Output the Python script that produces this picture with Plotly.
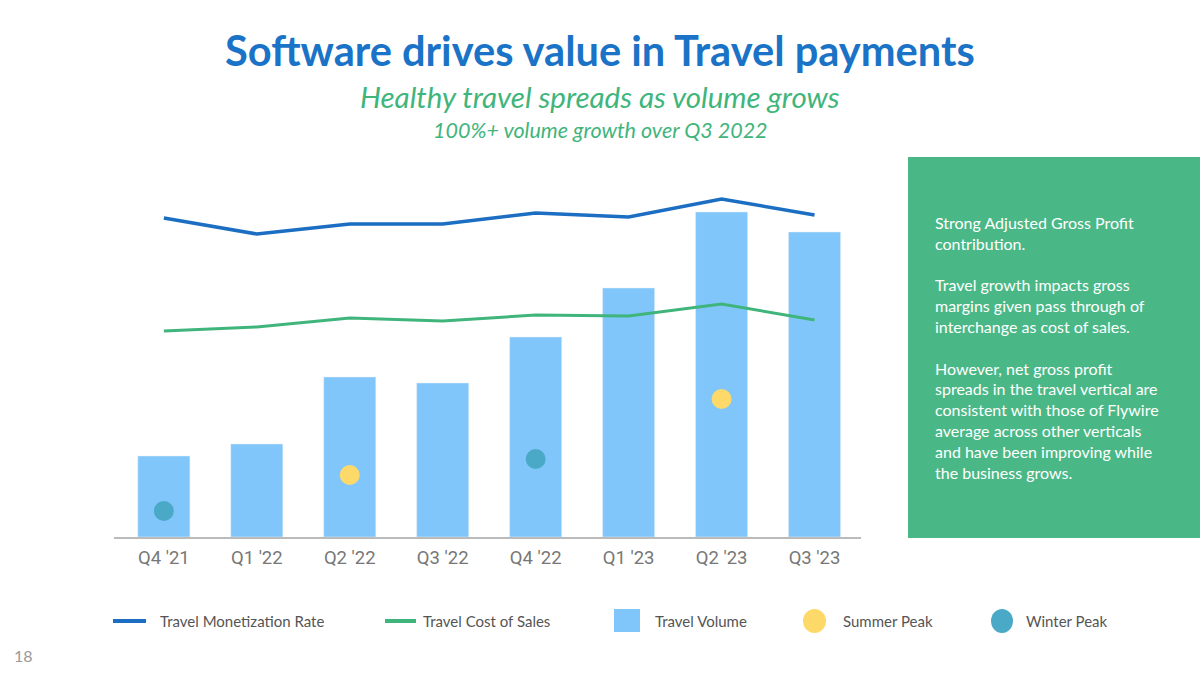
import plotly.graph_objects as go

quarters = ["Q4 '21", "Q1 '22", "Q2 '22", "Q3 '22", "Q4 '22", "Q1 '23", "Q2 '23", "Q3 '23"]
travel_volume = [81, 93, 160, 154, 200, 249, 325, 305]
monetization_rate = [319, 303, 313, 313, 324, 320, 338, 322]
cost_of_sales = [206, 210, 219, 216, 222, 221, 233, 217]
summer_q = ["Q2 '22", "Q2 '23"]
summer_val = [62, 138]
winter_q = ["Q4 '21", "Q4 '22"]
winter_val = [26, 78]

C_BLUE = "#1b6ec2"
C_GREEN = "#3fb57c"
C_BAR = "#80c6fa"
C_YEL = "#fdd96a"
C_TEAL = "#4aa9c6"
C_BOX = "#4ab886"

fig = go.Figure()
fig.add_trace(go.Bar(x=quarters, y=travel_volume, marker_color=C_BAR, name="Travel Volume"))
fig.add_trace(go.Scatter(x=quarters, y=monetization_rate, mode="lines",
                         line=dict(color=C_BLUE, width=3.5), name="Travel Monetization Rate"))
fig.add_trace(go.Scatter(x=quarters, y=cost_of_sales, mode="lines",
                         line=dict(color=C_GREEN, width=3), name="Travel Cost of Sales"))
fig.add_trace(go.Scatter(x=summer_q, y=summer_val, mode="markers",
                         marker=dict(color=C_YEL, size=20), name="Summer Peak"))
fig.add_trace(go.Scatter(x=winter_q, y=winter_val, mode="markers",
                         marker=dict(color=C_TEAL, size=20), name="Winter Peak"))

W, H = 1200, 675
def px(x): return x / W
def py(y): return 1 - y / H

fig.update_layout(
    width=W, height=H, margin=dict(l=0, r=0, t=0, b=0),
    paper_bgcolor="white", plot_bgcolor="white", showlegend=False, bargap=0.44,
    xaxis=dict(domain=[px(114), px(861)], showline=True, linecolor="#bbbbbb", linewidth=1.5,
               showgrid=False, ticks="", ticklabelstandoff=3,
               tickfont=dict(family="Roboto", size=18.5, color="#777777"),
               anchor="y"),
    yaxis=dict(domain=[py(537), py(137)], range=[0, 400], visible=False, showgrid=False),
)

# Right text box
fig.add_shape(type="rect", xref="paper", yref="paper", x0=px(908), x1=1, y0=py(538), y1=py(157),
              fillcolor=C_BOX, line_width=0, layer="below")
box_text = ("Strong Adjusted Gross Profit<br>contribution.<br><br>"
            "Travel growth impacts gross<br>margins given pass through of<br>interchange as cost of sales.<br><br>"
            "However, net gross profit<br>spreads in the travel vertical are<br>consistent with those of Flywire<br>"
            "average across other verticals<br>and have been improving while<br>the business grows.")
fig.add_annotation(xref="paper", yref="paper", x=px(933), y=py(211), xanchor="left", yanchor="top",
                   text=box_text, showarrow=False, align="left",
                   font=dict(family="Lato", size=16, color="white"))

# Titles
fig.add_annotation(xref="paper", yref="paper", x=0.5, y=py(50), yanchor="middle",
                   text="<b>Software drives value in Travel payments</b>",
                   showarrow=False, font=dict(family="Lato", size=41.6, color="#1a73c6"))
fig.add_annotation(xref="paper", yref="paper", x=0.5, y=py(96), yanchor="middle",
                   text="<i>Healthy travel spreads as volume grows</i>",
                   showarrow=False, font=dict(family="Lato", size=29.5, color=C_GREEN))
fig.add_annotation(xref="paper", yref="paper", x=0.5, y=py(130), yanchor="middle",
                   text="<i>100%+ volume growth over Q3 2022</i>",
                   showarrow=False, font=dict(family="Lato", size=21.5, color=C_GREEN))

# Page number
fig.add_annotation(xref="paper", yref="paper", x=px(12), y=py(655), xanchor="left", yanchor="middle",
                   text="18", showarrow=False, font=dict(family="Lato", size=16, color="#999999"))

# Custom legend
ly = py(621)
lf = dict(family="Lato", size=15, color="#555555")
def leg_text(x, t):
    fig.add_annotation(xref="paper", yref="paper", x=px(x), y=ly, xanchor="left", yanchor="middle",
                       text=t, showarrow=False, font=lf)
fig.add_shape(type="line", xref="paper", yref="paper", x0=px(113), x1=px(146), y0=ly, y1=ly,
              line=dict(color=C_BLUE, width=4))
leg_text(158, "Travel Monetization Rate")
fig.add_shape(type="line", xref="paper", yref="paper", x0=px(385), x1=px(416), y0=ly, y1=ly,
              line=dict(color=C_GREEN, width=4))
leg_text(421, "Travel Cost of Sales")
fig.add_shape(type="rect", xref="paper", yref="paper", x0=px(614), x1=px(640), y0=py(632), y1=py(609),
              fillcolor=C_BAR, line_width=0)
leg_text(653, "Travel Volume")
fig.add_shape(type="circle", xref="paper", yref="paper", x0=px(803), x1=px(826), y0=py(633), y1=py(609),
              fillcolor=C_YEL, line_width=0)
leg_text(841, "Summer Peak")
fig.add_shape(type="circle", xref="paper", yref="paper", x0=px(991), x1=px(1013), y0=py(633), y1=py(609),
              fillcolor=C_TEAL, line_width=0)
leg_text(1024, "Winter Peak")

fig.write_html("out.html", config={"displayModeBar": False},
               post_script="document.body.style.margin='0';")
